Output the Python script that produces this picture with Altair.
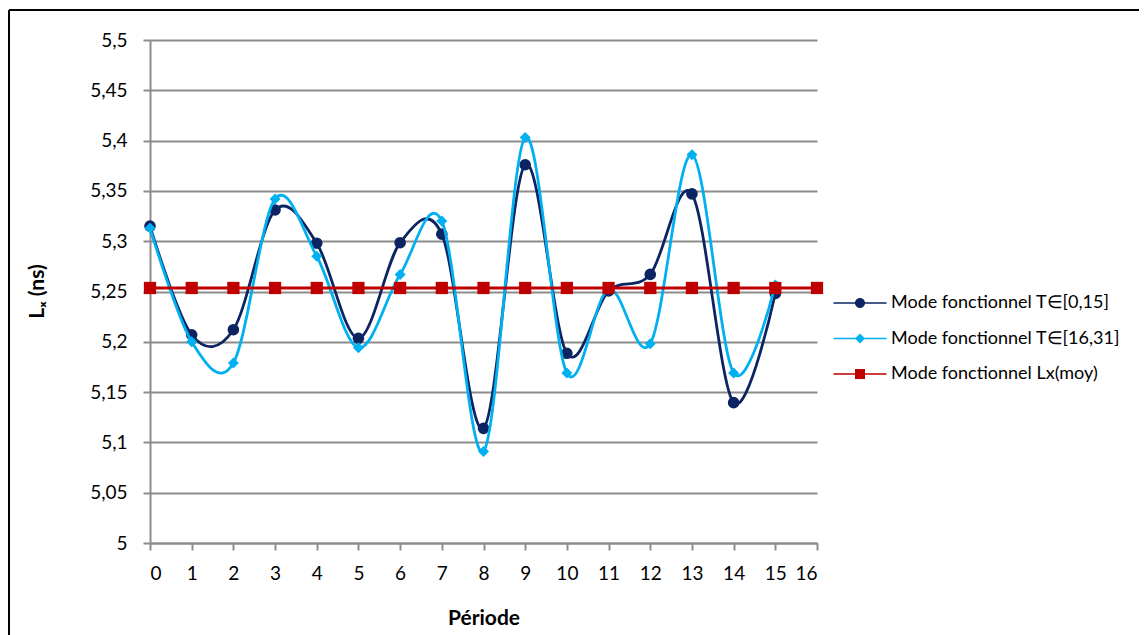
import altair as alt
import pandas as pd

periods = list(range(16))
series_a = [5.315, 5.207, 5.212, 5.331, 5.298, 5.2035, 5.2985, 5.307,
            5.114, 5.376, 5.1886, 5.2505, 5.267, 5.347, 5.1395, 5.248]
series_b = [5.313, 5.200, 5.179, 5.342, 5.285, 5.194, 5.267, 5.320,
            5.091, 5.403, 5.169, 5.2525, 5.198, 5.386, 5.169, 5.2565]
periods_mean = list(range(17))
series_mean = [5.2535, 5.2535, 5.2535, 5.2535, 5.2535, 5.2535, 5.2535, 5.2535, 5.2535,
               5.2535, 5.2535, 5.2535, 5.2535, 5.2535, 5.2535, 5.2535, 5.2535]

names = ["Mode fonctionnel T∈[0,15]", "Mode fonctionnel T∈[16,31]", "Mode fonctionnel Lx(moy)"]
colors = ["#0c2461", "#00b0f0", "#c00000"]
shapes = ["circle", "diamond", "square"]
sizes = [135, 120, 150]
legend_paths = [
    "M-5.3,-0.14H5.3V0.14H-5.3ZM1,0A1,1,0,1,1,-1,0A1,1,0,1,1,1,0Z",
    "M-5.3,-0.14H5.3V0.14H-5.3ZM0,-1L1,0L0,1L-1,0Z",
    "M-5.3,-0.14H5.3V0.14H-5.3ZM-1,-1H1V1H-1Z",
]
y_ticks = [5, 5.05, 5.1, 5.15, 5.2, 5.25, 5.3, 5.35, 5.4, 5.45, 5.5]
x_ticks = list(range(17))

rows = []
for p, v in zip(periods, series_a):
    rows.append({"periode": p, "Lx": v, "serie": names[0]})
for p, v in zip(periods, series_b):
    rows.append({"periode": p, "Lx": v, "serie": names[1]})
for p, v in zip(periods_mean, series_mean):
    rows.append({"periode": p, "Lx": v, "serie": names[2]})
df = pd.DataFrame(rows)

FONT = "Lato"
GRID = "#8c8c8c"

x_enc = alt.X("periode:Q",
              scale=alt.Scale(domain=[0, 16], nice=False),
              axis=alt.Axis(values=x_ticks, title="Période", grid=False, format="d",
                            titleFontWeight="bold", titleFontSize=21, titleFont=FONT,
                            titleY=75, titleBaseline="middle",
                            labelFontSize=19, labelFont=FONT, labelPadding=14,
                            tickSize=7, tickColor=GRID, domainColor=GRID,
                            domainWidth=2, tickWidth=2, labelColor="#000000"))
y_enc = alt.Y("Lx:Q",
              scale=alt.Scale(domain=[5, 5.5], nice=False, zero=False),
              axis=alt.Axis(values=y_ticks, title="Lₓ (ns)",
                            labelExpr="replace(format(datum.value, '.2~f'), '.', ',')",
                            titleFontWeight="bold", titleFontSize=21, titleFont=FONT,
                            titleX=-113, titleY=251, titleAngle=-90,
                            titleAlign="center", titleBaseline="middle",
                            labelFontSize=19, labelFont=FONT, labelPadding=16,
                            tickSize=7, tickColor=GRID, domainColor=GRID,
                            domainWidth=2, tickWidth=2, labelColor="#000000",
                            gridColor=GRID, gridWidth=2))

leg = alt.Legend(title=None, orient="none", legendX=701, legendY=254,
                 labelFont=FONT, labelFontSize=18, labelColor="#000000",
                 labelLimit=0, symbolSize=100, labelOffset=22, rowPadding=17.5,
                 padding=0, symbolStrokeWidth=0)

color_enc = alt.Color("serie:N", scale=alt.Scale(domain=names, range=colors), legend=leg)

data = alt.Data(values=df.to_dict(orient="records"))

layers = []
for i, nm in enumerate(names):
    base = alt.Chart(data).transform_filter(alt.FieldEqualPredicate(field="serie", equal=nm))
    line = base.mark_line(interpolate="cardinal", strokeWidth=2.8).encode(
        x=x_enc, y=y_enc, color=color_enc,
    )
    pts = base.mark_point(shape=shapes[i], size=sizes[i], filled=True, opacity=1).encode(
        x="periode:Q", y="Lx:Q", color=color_enc,
    )
    layers += [line, pts]

# legend symbols (line + marker) come from this shape scale; no visible marks
legend_layer = alt.Chart(data).transform_filter(
    alt.FieldEqualPredicate(field="periode", equal=0)).mark_point(filled=True, size=0).encode(
    x="periode:Q", y="Lx:Q", color=color_enc,
    shape=alt.Shape("serie:N", scale=alt.Scale(domain=names, range=legend_paths), legend=leg),
)

frame_v = alt.Chart(alt.Data(values=[{}])).mark_rule(color="#000000", strokeWidth=2).encode(
    x=alt.value(-141), y=alt.value(-30), y2=alt.value(700))
frame_h = alt.Chart(alt.Data(values=[{}])).mark_rule(color="#000000", strokeWidth=2).encode(
    x=alt.value(-141), x2=alt.value(1100), y=alt.value(-30))

chart = alt.layer(*layers, legend_layer, frame_v, frame_h).properties(
    width=667, height=503,
    autosize=alt.AutoSizeParams(type="none"),
    padding={"left": 142, "top": 32, "right": 322, "bottom": 92},
    background="#ffffff",
).configure_view(stroke=None)

chart.save("out.html", embed_options={"renderer": "svg", "actions": False})
